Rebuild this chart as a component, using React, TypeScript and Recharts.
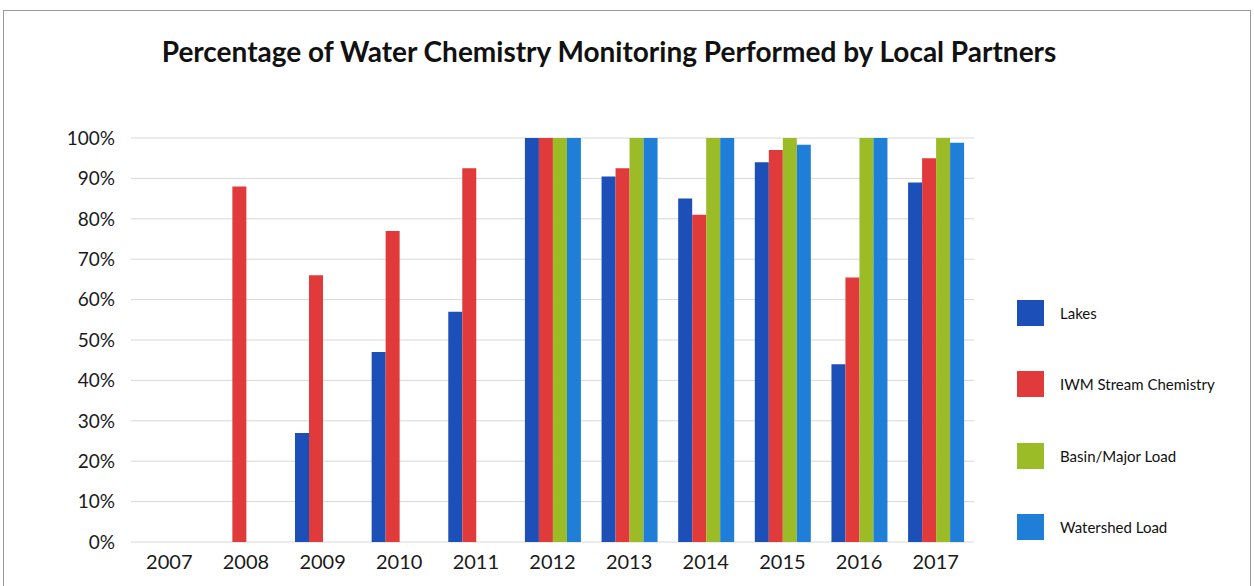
import { BarChart, Bar, XAxis, YAxis, CartesianGrid } from 'recharts';

const years = ['2007', '2008', '2009', '2010', '2011', '2012', '2013', '2014', '2015', '2016', '2017'];
const lakes = [null, null, 27, 47, 57, 100, 90.5, 85, 94, 44, 89];
const iwmStream = [null, 88, 66, 77, 92.5, 100, 92.5, 81, 97, 65.5, 95];
const basinMajor = [null, null, null, null, null, 100, 100, 100, 100, 100, 100];
const watershed = [null, null, null, null, null, 100, 100, 100, 98.3, 100, 98.8];
const yTicks = [0, 10, 20, 30, 40, 50, 60, 70, 80, 90, 100];

const series = [
  { key: 'lakes', name: 'Lakes', color: '#1d4fb8' },
  { key: 'iwm', name: 'IWM Stream Chemistry', color: '#e03a3a' },
  { key: 'basin', name: 'Basin/Major Load', color: '#9bbc26' },
  { key: 'watershed', name: 'Watershed Load', color: '#1f7fd8' },
];

const data = years.map((year, i) => ({
  year,
  lakes: lakes[i],
  iwm: iwmStream[i],
  basin: basinMajor[i],
  watershed: watershed[i],
}));

const font = 'Lato, "Open Sans", sans-serif';

export default function App() {
  return (
    <div style={{ position: 'absolute', left: 0, top: 0, width: 1254, height: 586, overflow: 'hidden', background: '#fff', fontFamily: font }}>
      <div style={{ position: 'absolute', left: 3, top: 10, width: 1246, height: 600, border: '1px solid #9a9a9a' }} />
      <div style={{ position: 'absolute', left: 0, top: 34, width: 1218, textAlign: 'center', fontSize: 28, lineHeight: '34px', fontWeight: 700, color: '#111' }}>
        Percentage of Water Chemistry Monitoring Performed by Local Partners
      </div>

      <div style={{ position: 'absolute', left: 0, top: 0 }}>
        <BarChart
          width={990}
          height={586}
          data={data}
          margin={{ top: 138, right: 16, bottom: 14, left: 71 }}
          barGap={0}
          barCategoryGap="14%"
        >
          <CartesianGrid vertical={false} stroke="#d8d8d8" />
          <XAxis
            dataKey="year"
            axisLine={false}
            tickLine={false}
            height={30}
            tickMargin={7}
            tick={{ fontSize: 20, fill: '#1a1a1a', fontFamily: font }}
          />
          <YAxis
            domain={[0, 100]}
            ticks={yTicks}
            width={60}
            axisLine={false}
            tickLine={false}
            tickSize={0}
            tickMargin={16}
            tickFormatter={(v) => `${v}%`}
            tick={{ fontSize: 19, fill: '#1a1a1a', fontFamily: font }}
          />
          {series.map((s) => (
            <Bar key={s.key} dataKey={s.key} name={s.name} fill={s.color} isAnimationActive={false} />
          ))}
        </BarChart>
      </div>

      {/* legend, spaced out like the original */}
      <div style={{ position: 'absolute', left: 1017, top: 300 }}>
        {series.map((s) => (
          <div key={s.key} style={{ display: 'flex', alignItems: 'center', height: 26, marginBottom: 45.3 }}>
            <div style={{ width: 27, height: 26, background: s.color }} />
            <span style={{ marginLeft: 16, fontSize: 15, color: '#111' }}>{s.name}</span>
          </div>
        ))}
      </div>
    </div>
  );
}
